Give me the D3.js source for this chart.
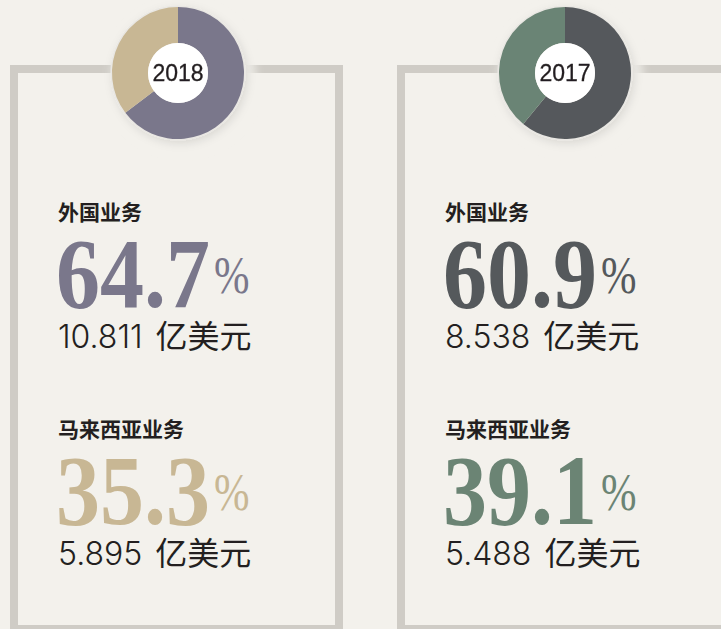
<!DOCTYPE html>
<html>
<head>
<meta charset="utf-8">
<script src="https://cdn.jsdelivr.net/npm/d3@7"></script>
<style>
  html, body { margin: 0; padding: 0; background: #f3f1ec; }
  svg { display: block; }
</style>
</head>
<body>
<div id="container"></div>
<script>
"use strict";

// data
var years = ["2018", "2017"];
var segmentNames = ["外国业务", "马来西亚业务"];
var foreignShare = [64.7, 60.9];
var malaysiaShare = [35.3, 39.1];
var foreignValue = ["10.811", "8.538"];
var malaysiaValue = ["5.895", "5.488"];
var unitLabel = "亿美元";

// colours: [foreign, malaysia] per year
var yearColours = [["#7a778b", "#c8b794"], ["#55595c", "#6b8474"]];

var width = 721;
var height = 629;
var bg = "#f3f1ec";
var frameColour = "#cfccc6";
var textColour = "#231f20";

var svg = d3.select("#container").append("svg")
    .attr("width", width)
    .attr("height", height)
    .style("background", bg);

var defs = svg.append("defs");
var blur = defs.append("filter").attr("id", "halo")
    .attr("x", "-30%").attr("y", "-30%").attr("width", "160%").attr("height", "160%");
blur.append("feGaussianBlur").attr("stdDeviation", 5);

var shadow = defs.append("filter").attr("id", "shadow")
    .attr("x", "-30%").attr("y", "-30%").attr("width", "160%").attr("height", "160%");
shadow.append("feDropShadow").attr("dx", 2).attr("dy", 3).attr("stdDeviation", 4)
    .attr("flood-color", "#000").attr("flood-opacity", 0.10);

// one panel per year
var panelX = d3.scaleBand().domain(years).range([10, 10 + 387 * 2]);

var outerR = 66;
var innerR = 30;
var donutY = 73;

var pie = d3.pie().sort(null).value(function (d) { return d; });
var arc = d3.arc().innerRadius(innerR).outerRadius(outerR);

years.forEach(function (year, i) {
    var x0 = panelX(year);
    var cx = x0 + 168;
    var g = svg.append("g").attr("class", "panel");

    //frame
    g.append("rect")
        .attr("x", x0 + 4)
        .attr("y", 69)
        .attr("width", 325)
        .attr("height", 560)
        .style("fill", "none")
        .style("stroke", frameColour)
        .style("stroke-width", 8);

    //halo hiding the frame behind the donut
    g.append("circle")
        .attr("cx", cx + 5)
        .attr("cy", donutY + 5)
        .attr("r", 72)
        .attr("filter", "url(#halo)")
        .style("fill", bg);

    var donut = g.append("g")
        .attr("transform", "translate(" + cx + "," + donutY + ")")
        .attr("filter", "url(#shadow)");

    donut.append("circle").attr("r", outerR + 1.5).style("fill", "#e9e7e3");

    donut.selectAll("path.slice")
        .data(pie([foreignShare[i], malaysiaShare[i]]))
        .enter().append("path")
        .attr("class", "slice")
        .attr("d", arc)
        .style("fill", function (d, k) { return yearColours[i][k]; });

    donut.append("circle").attr("r", innerR).style("fill", "#fff");

    donut.append("text")
        .attr("text-anchor", "middle")
        .attr("dy", "0.36em")
        .style("font-family", "'Liberation Sans', Arial, sans-serif")
        .style("font-size", "23px")
        .style("fill", textColour)
        .style("stroke", textColour)
        .style("stroke-width", 0.3)
        .text(year);

    //text blocks
    var blocks = [
        { name: segmentNames[0], share: foreignShare[i], value: foreignValue[i], colour: yearColours[i][0], top: 0 },
        { name: segmentNames[1], share: malaysiaShare[i], value: malaysiaValue[i], colour: yearColours[i][1], top: 217 }
    ];

    var tx = x0 + 48;

    blocks.forEach(function (b) {
        g.append("text")
            .attr("x", tx)
            .attr("y", 220 + b.top)
            .style("font-family", "'Noto Sans CJK SC', sans-serif")
            .style("font-weight", 700)
            .style("font-size", "21px")
            .style("fill", textColour)
            .text(b.name);

        var sx = 0.88;
        var num = g.append("text")
            .attr("transform", "translate(" + (tx - 2) + "," + (307 + b.top) + ") scale(" + sx + ",1)")
            .style("font-family", "'Liberation Serif', 'Times New Roman', serif")
            .style("font-weight", 700)
            .style("font-size", "100px")
            .style("fill", b.colour)
            .text(b.share.toFixed(1));

        var numW = num.node().getComputedTextLength() * sx;

        g.append("text")
            .attr("transform", "translate(" + (tx - 2 + numW + 4) + "," + (293 + b.top) + ") scale(0.82,1)")
            .style("font-family", "'Liberation Serif', 'Times New Roman', serif")
            .style("font-size", "52px")
            .style("fill", b.colour)
            .text("%");

        var val = g.append("text")
            .attr("x", tx)
            .attr("y", 348 + b.top)
            .style("fill", textColour);
        val.append("tspan")
            .style("font-family", "Inter, 'Liberation Sans', sans-serif")
            .style("font-weight", 300)
            .style("font-size", "32px")
            .text(b.value + " ");
        val.append("tspan")
            .attr("dx", 4)
            .style("font-family", "'Noto Sans CJK SC', sans-serif")
            .style("font-size", "32px")
            .text(unitLabel);
    });
});
</script>
</body>
</html>
